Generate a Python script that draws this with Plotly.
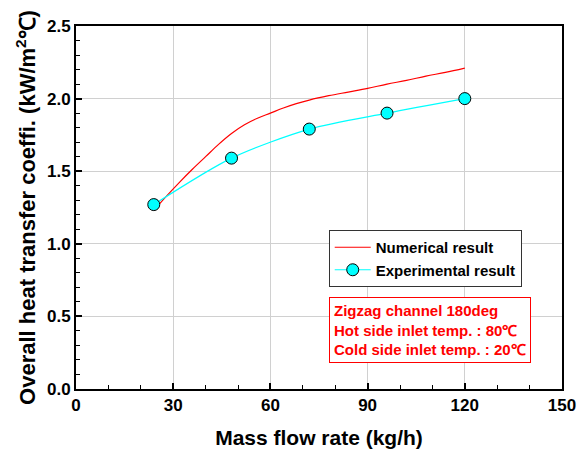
import plotly.graph_objects as go

# Data
exp_x = [24, 48, 72, 96, 120]
exp_y = [1.27, 1.59, 1.79, 1.90, 2.00]

num_x = [24, 28, 32, 36, 40, 44, 48, 52, 56, 60, 64, 68, 72, 78, 84, 90, 96, 102, 108, 114, 120]
num_y = [1.23, 1.33, 1.425, 1.515, 1.60, 1.685, 1.76, 1.82, 1.865, 1.90, 1.935, 1.965, 1.99,
         2.02, 2.045, 2.07, 2.10, 2.125, 2.155, 2.18, 2.21]

x_ticks = [0, 30, 60, 90, 120, 150]
y_ticks = [0.0, 0.5, 1.0, 1.5, 2.0, 2.5]

FONT = "Liberation Sans, Arial, sans-serif"

fig = go.Figure()
fig.add_trace(go.Scatter(
    x=num_x, y=num_y, mode="lines", name="Numerical result",
    line=dict(color="#ff0000", width=1.2, shape="spline", smoothing=1.0),
))
fig.add_trace(go.Scatter(
    x=exp_x, y=exp_y, mode="lines+markers", name="Experimental result",
    line=dict(color="#00ffff", width=1.2, shape="spline", smoothing=0.8),
    marker=dict(color="#00ffff", size=12, line=dict(color="#000000", width=1)),
))

axis_common = dict(
    showline=True, linecolor="black", linewidth=2, mirror=True,
    ticks="inside", ticklen=6, tickwidth=2, tickcolor="black",
    showgrid=True, gridcolor="#d0d0d0", gridwidth=1,
    zeroline=False, automargin=False,
    tickfont=dict(family=FONT, size=17, color="black", weight="bold"),
)

fig.update_xaxes(
    range=[0, 150], tickvals=x_ticks, ticktext=[str(v) for v in x_ticks],
    minor=dict(dtick=10, ticks="inside", ticklen=4, tickcolor="black", tickwidth=1, showgrid=False),
    title=dict(text="<b>Mass flow rate (kg/h)</b>", font=dict(family=FONT, size=21, color="black"), standoff=16),
    **axis_common,
)
fig.update_yaxes(
    range=[0, 2.5], tickvals=y_ticks, ticktext=[f"{v:.1f}" for v in y_ticks],
    minor=dict(dtick=0.1, ticks="inside", ticklen=4, tickcolor="black", tickwidth=1, showgrid=False),
    title=dict(text="<b>Overall heat transfer coeffi. (kW/m<sup>2</sup>℃)</b>",
               font=dict(family=FONT, size=22, color="black"), standoff=5),
    **axis_common,
)

fig.add_annotation(
    xref="paper", yref="paper", x=0.52, y=0.254, xanchor="left", yanchor="top",
    text="<b>Zigzag channel 180deg<br>Hot side inlet temp. : 80℃<br>Cold side inlet temp. : 20℃</b>",
    align="left", showarrow=False,
    font=dict(family=FONT, size=15, color="#ff0000"),
    bordercolor="#ff0000", borderwidth=1, borderpad=4, bgcolor="white",
)

fig.update_layout(
    width=577, height=462,
    margin=dict(l=76, r=15, t=26, b=73),
    paper_bgcolor="white", plot_bgcolor="white",
    font=dict(family=FONT, color="black"),
    legend=dict(
        x=0.52, y=0.438, xanchor="left", yanchor="top",
        bordercolor="#333333", borderwidth=1, bgcolor="white",
        font=dict(family=FONT, size=15, color="black", weight="bold"),
        itemwidth=36, tracegroupgap=2,
    ),
)

fig.write_html("out.html", config={"displayModeBar": False},
               post_script="document.body.style.margin='0px';")
